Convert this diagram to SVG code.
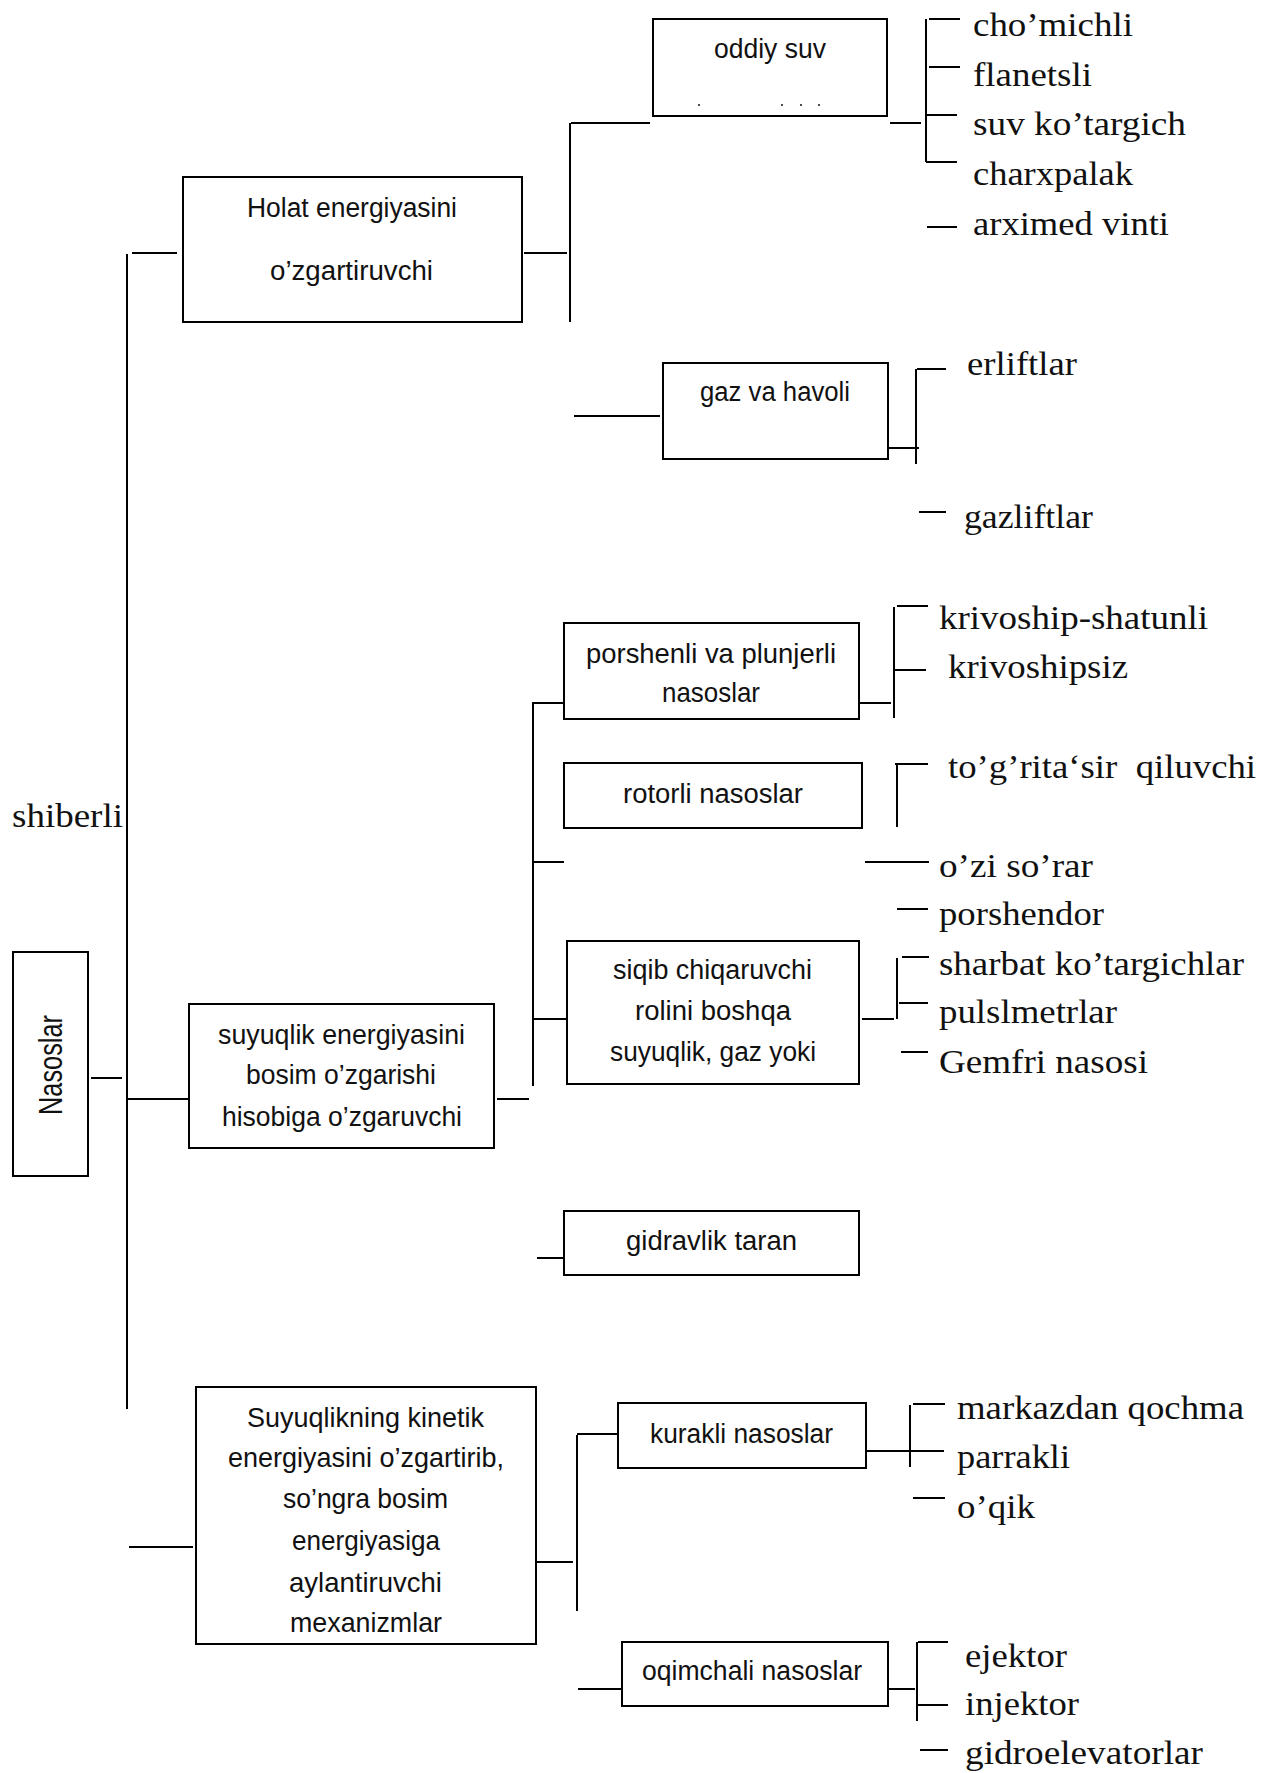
<svg xmlns="http://www.w3.org/2000/svg" width="1262" height="1773" viewBox="0 0 1262 1773">
<style>
.bx{fill:#fff;stroke:#000;stroke-width:2}
.ln{stroke:#000;stroke-width:2;fill:none}
.s{font-family:"Liberation Sans",Arial,sans-serif;font-size:27px;fill:#111}
.s27{font-size:28px}
.r{font-family:"Liberation Serif","Times New Roman",serif;font-size:33px;fill:#111}
</style>
<rect width="1262" height="1773" fill="#fff"/>
<g id="connectors" class="ln">
<path d="M127 254V1409M132 253H177M91 1078H122M127 1099H189M129 1547H193"/>
<path d="M524 253H567M570 123V322M571 123H650M890 123H921M926 19V162M929 19H960M929 67H960M927 115H957M926 162H957M927 227H957"/>
<path d="M574 416H660M888 448H919M916 369V464M917 369H946M919 512H946"/>
<path d="M532 703H564M533 703V1086M859 703H891M894 607V718M897 606H928M894 670H926"/>
<path d="M895 764H928M897 764V827M532 862H564M865 862H929M897 909H928"/>
<path d="M534 1019H567M862 1019H894M897 958V1019M902 957H929M899 1003H928M901 1052H928"/>
<path d="M497 1099H529M537 1258H567"/>
<path d="M536 1562H573M577 1435V1611M577 1434H621M866 1451H944M910 1405V1467M913 1404H945M913 1498H945"/>
<path d="M578 1689H622M885 1689H915M917 1642V1721M918 1642H948M918 1705H948M920 1750H948"/>
</g>
<g id="nasoslar">
<rect class="bx" x="13" y="952" width="75" height="224"/>
<text class="s" transform="translate(62,1065) scale(1.2,1) rotate(-90)" x="0" y="0" text-anchor="middle" textLength="100" lengthAdjust="spacingAndGlyphs">Nasoslar</text>
</g>
<g id="shiberli"><text class="r" x="12" y="827" font-size="38" textLength="111" lengthAdjust="spacingAndGlyphs">shiberli</text></g>
<g id="holat">
<rect class="bx" x="183" y="177" width="339" height="145"/>
<text class="s" x="247" y="217" textLength="210" lengthAdjust="spacingAndGlyphs">Holat energiyasini</text>
<text class="s" x="270" y="280" textLength="163" lengthAdjust="spacingAndGlyphs">o’zgartiruvchi</text>
</g>
<g id="oddiy">
<rect class="bx" x="653" y="19" width="234" height="97"/>
<text class="s" x="714" y="58" textLength="112" lengthAdjust="spacingAndGlyphs">oddiy suv</text>
<circle cx="699" cy="105" r="1" fill="#111"/><circle cx="782" cy="105" r="1" fill="#111"/><circle cx="801" cy="105" r="1" fill="#111"/><circle cx="819" cy="105" r="1" fill="#111"/>
</g>
<g id="oddiy-items">
<text class="r" x="973" y="36" textLength="160" lengthAdjust="spacingAndGlyphs">cho’michli</text>
<text class="r" x="973" y="86" textLength="119" lengthAdjust="spacingAndGlyphs">flanetsli</text>
<text class="r" x="973" y="135" textLength="213" lengthAdjust="spacingAndGlyphs">suv ko’targich</text>
<text class="r" x="973" y="185" textLength="160" lengthAdjust="spacingAndGlyphs">charxpalak</text>
<text class="r" x="973" y="235" textLength="196" lengthAdjust="spacingAndGlyphs">arximed vinti</text>
</g>
<g id="gaz">
<rect class="bx" x="663" y="363" width="225" height="96"/>
<text class="s" x="700" y="401" textLength="150" lengthAdjust="spacingAndGlyphs">gaz va havoli</text>
</g>
<g id="gaz-items">
<text class="r" x="967" y="375" textLength="110" lengthAdjust="spacingAndGlyphs">erliftlar</text>
<text class="r" x="964" y="528" textLength="129" lengthAdjust="spacingAndGlyphs">gazliftlar</text>
</g>
<g id="suyuqlik">
<rect class="bx" x="189" y="1004" width="305" height="144"/>
<text class="s s27" x="218" y="1044" textLength="247" lengthAdjust="spacingAndGlyphs">suyuqlik energiyasini</text>
<text class="s s27" x="246" y="1084" textLength="190" lengthAdjust="spacingAndGlyphs">bosim o’zgarishi</text>
<text class="s s27" x="222" y="1126" textLength="240" lengthAdjust="spacingAndGlyphs">hisobiga o’zgaruvchi</text>
</g>
<g id="porshenli">
<rect class="bx" x="564" y="623" width="295" height="96"/>
<text class="s s27" x="586" y="663" textLength="250" lengthAdjust="spacingAndGlyphs">porshenli va plunjerli</text>
<text class="s s27" x="662" y="702" textLength="98" lengthAdjust="spacingAndGlyphs">nasoslar</text>
</g>
<g id="porshenli-items">
<text class="r" x="939" y="629" textLength="269" lengthAdjust="spacingAndGlyphs">krivoship-shatunli</text>
<text class="r" x="948" y="678" textLength="180" lengthAdjust="spacingAndGlyphs">krivoshipsiz</text>
</g>
<g id="rotorli">
<rect class="bx" x="564" y="763" width="298" height="65"/>
<text class="s" x="623" y="803" textLength="180" lengthAdjust="spacingAndGlyphs">rotorli nasoslar</text>
</g>
<g id="rotorli-items">
<text class="r" x="948" y="778" xml:space="preserve" textLength="308" lengthAdjust="spacingAndGlyphs">to’g’rita‘sir  qiluvchi</text>
<text class="r" x="939" y="877" textLength="154" lengthAdjust="spacingAndGlyphs">o’zi so’rar</text>
<text class="r" x="939" y="925" textLength="165" lengthAdjust="spacingAndGlyphs">porshendor</text>
</g>
<g id="siqib">
<rect class="bx" x="567" y="941" width="292" height="143"/>
<text class="s" x="613" y="979" textLength="199" lengthAdjust="spacingAndGlyphs">siqib chiqaruvchi</text>
<text class="s" x="635" y="1020" textLength="156" lengthAdjust="spacingAndGlyphs">rolini boshqa</text>
<text class="s" x="610" y="1061" textLength="206" lengthAdjust="spacingAndGlyphs">suyuqlik, gaz yoki</text>
</g>
<g id="siqib-items">
<text class="r" x="939" y="975" textLength="305" lengthAdjust="spacingAndGlyphs">sharbat ko’targichlar</text>
<text class="r" x="939" y="1023" textLength="178" lengthAdjust="spacingAndGlyphs">pulslmetrlar</text>
<text class="r" x="939" y="1073" textLength="209" lengthAdjust="spacingAndGlyphs">Gemfri nasosi</text>
</g>
<g id="gidravlik">
<rect class="bx" x="564" y="1211" width="295" height="64"/>
<text class="s" x="626" y="1250" textLength="171" lengthAdjust="spacingAndGlyphs">gidravlik taran</text>
</g>
<g id="kinetik">
<rect class="bx" x="196" y="1387" width="340" height="257"/>
<text class="s s27" x="247" y="1427" textLength="237" lengthAdjust="spacingAndGlyphs">Suyuqlikning kinetik</text>
<text class="s s27" x="228" y="1467" textLength="276" lengthAdjust="spacingAndGlyphs">energiyasini o’zgartirib,</text>
<text class="s s27" x="283" y="1508" textLength="165" lengthAdjust="spacingAndGlyphs">so’ngra bosim</text>
<text class="s s27" x="292" y="1550" textLength="148" lengthAdjust="spacingAndGlyphs">energiyasiga</text>
<text class="s s27" x="289" y="1592" textLength="153" lengthAdjust="spacingAndGlyphs">aylantiruvchi</text>
<text class="s s27" x="290" y="1632" textLength="152" lengthAdjust="spacingAndGlyphs">mexanizmlar</text>
</g>
<g id="kurakli">
<rect class="bx" x="618" y="1403" width="248" height="65"/>
<text class="s" x="650" y="1443" textLength="183" lengthAdjust="spacingAndGlyphs">kurakli nasoslar</text>
</g>
<g id="kurakli-items">
<text class="r" x="957" y="1419" textLength="287" lengthAdjust="spacingAndGlyphs">markazdan qochma</text>
<text class="r" x="957" y="1468" textLength="113" lengthAdjust="spacingAndGlyphs">parrakli</text>
<text class="r" x="957" y="1518" textLength="78" lengthAdjust="spacingAndGlyphs">o’qik</text>
</g>
<g id="oqimchali">
<rect class="bx" x="622" y="1642" width="266" height="64"/>
<text class="s" x="642" y="1680" textLength="220" lengthAdjust="spacingAndGlyphs">oqimchali nasoslar</text>
</g>
<g id="oqimchali-items">
<text class="r" x="965" y="1667" textLength="102" lengthAdjust="spacingAndGlyphs">ejektor</text>
<text class="r" x="965" y="1715" textLength="114" lengthAdjust="spacingAndGlyphs">injektor</text>
<text class="r" x="965" y="1764" textLength="238" lengthAdjust="spacingAndGlyphs">gidroelevatorlar</text>
</g>
</svg>
